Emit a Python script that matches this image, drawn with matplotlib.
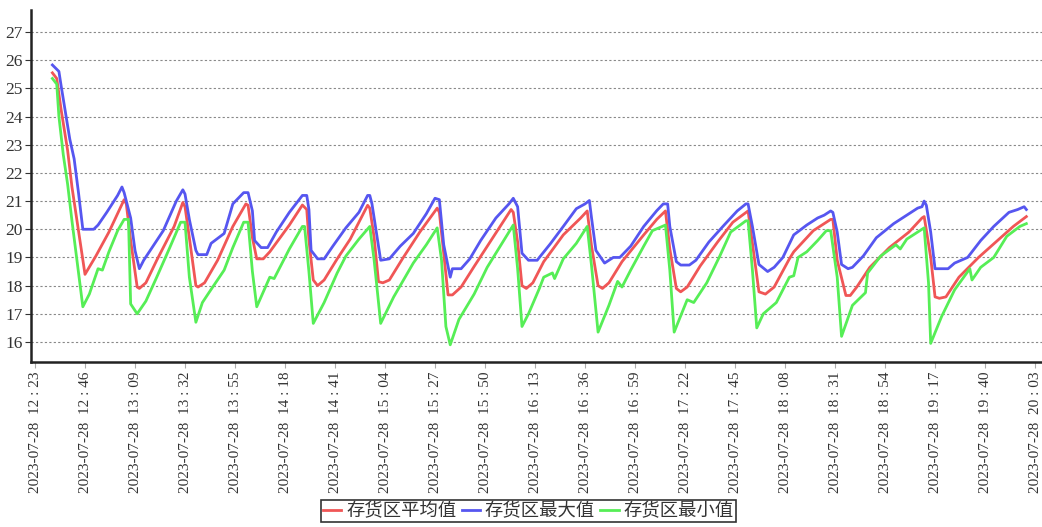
import matplotlib.pyplot as plt
import pandas as pd

plt.rcParams['font.family'] = ['Noto Sans CJK SC', 'DejaVu Sans']

START = '12:23'
TICK_LABELS = ['12:23', '12:46', '13:09', '13:32', '13:55', '14:18', '14:41',
               '15:04', '15:27', '15:50', '16:13', '16:36', '16:59', '17:22',
               '17:45', '18:08', '18:31', '18:54', '19:17', '19:40', '20:03']
DATE = '2023-07-28'

avg_t = ['12:31', '12:33', '12:35', '12:38', '12:40', '12:46', '12:51', '12:57', '13:04', '13:05',
         '13:07', '13:10', '13:11', '13:14', '13:19', '13:27', '13:31', '13:32', '13:34', '13:37',
         '13:38', '13:41', '13:47', '13:54', '14:00', '14:01', '14:03', '14:05', '14:08', '14:11',
         '14:20', '14:26', '14:28', '14:29', '14:31', '14:33', '14:36', '14:42', '14:48', '14:56',
         '14:57', '14:59', '15:01', '15:03', '15:06', '15:12', '15:20', '15:28', '15:29', '15:31',
         '15:33', '15:35', '15:39', '15:45', '15:54', '16:02', '16:03', '16:05', '16:07', '16:09',
         '16:12', '16:17', '16:26', '16:34', '16:37', '16:39', '16:42', '16:44', '16:47', '16:53',
         '17:03', '17:09', '17:13', '17:15', '17:18', '17:20', '17:23', '17:29', '17:37', '17:44',
         '17:51', '17:53', '17:56', '17:59', '18:03', '18:10', '18:12', '18:21', '18:29', '18:30',
         '18:32', '18:36', '18:38', '18:41', '18:47', '18:56', '19:05', '19:11', '19:12', '19:15',
         '19:17', '19:19', '19:22', '19:28', '19:37', '19:45', '19:53', '19:59']
avg_v = [25.55, 25.35, 24.25, 22.8, 21.5, 18.4, 19.05, 19.9, 21.05, 20.9,
         19.6, 17.95, 17.9, 18.1, 18.9, 20.1, 20.95, 20.8, 19.7, 18.0,
         17.95, 18.1, 18.9, 20.1, 20.9, 20.85, 19.7, 18.95, 18.95, 19.2,
         20.15, 20.86, 20.7, 19.62, 18.2, 18.0, 18.2, 18.95, 19.65, 20.85,
         20.75, 19.7, 18.14, 18.1, 18.2, 18.95, 19.9, 20.75, 20.6, 19.15,
         17.67, 17.67, 17.95, 18.68, 19.75, 20.7, 20.6, 19.55, 18.0, 17.9,
         18.1, 18.85, 19.8, 20.4, 20.65, 19.4, 18.0, 17.9, 18.1, 18.85,
         19.8, 20.35, 20.65, 19.3, 17.9, 17.78, 17.95, 18.7, 19.55, 20.25,
         20.65, 19.5, 17.78, 17.7, 17.95, 18.95, 19.2, 19.95, 20.35, 20.35,
         18.9, 17.65, 17.65, 17.95, 18.65, 19.35, 19.9, 20.4, 20.45, 19.0,
         17.6, 17.55, 17.6, 18.3, 19.0, 19.55, 20.1, 20.45]

max_t = ['12:31', '12:34', '12:35', '12:37', '12:39', '12:41', '12:43', '12:45', '12:50', '12:52',
         '12:56', '13:01', '13:03', '13:04', '13:07', '13:09', '13:11', '13:13', '13:16', '13:22',
         '13:28', '13:31', '13:32', '13:34', '13:37', '13:38', '13:42', '13:44', '13:50', '13:54',
         '13:59', '14:01', '14:03', '14:04', '14:07', '14:10', '14:14', '14:20', '14:26', '14:28',
         '14:29', '14:30', '14:33', '14:36', '14:40', '14:46', '14:52', '14:56', '14:57', '14:58',
         '15:02', '15:06', '15:11', '15:17', '15:23', '15:27', '15:29', '15:31', '15:34', '15:35',
         '15:39', '15:43', '15:48', '15:55', '16:01', '16:03', '16:05', '16:07', '16:10', '16:14',
         '16:15', '16:20', '16:26', '16:32', '16:36', '16:38', '16:39', '16:41', '16:45', '16:49',
         '16:52', '16:57', '17:03', '17:09', '17:12', '17:14', '17:15', '17:18', '17:20', '17:24',
         '17:27', '17:33', '17:40', '17:46', '17:50', '17:51', '17:53', '17:56', '18:00', '18:03',
         '18:07', '18:12', '18:18', '18:23', '18:26', '18:29', '18:30', '18:32', '18:34', '18:37',
         '18:39', '18:44', '18:50', '18:58', '19:04', '19:09', '19:11', '19:12', '19:13', '19:15',
         '19:17', '19:23', '19:26', '19:32', '19:38', '19:44', '19:51', '19:55', '19:58', '19:59']
max_v = [25.83, 25.6, 25.1, 24.15, 23.2, 22.5, 21.3, 20.0, 20.0, 20.15,
         20.6, 21.2, 21.5, 21.3, 20.4, 19.25, 18.6, 18.9, 19.25, 19.95,
         21.0, 21.4, 21.25, 20.35, 19.25, 19.1, 19.1, 19.5, 19.85, 20.9,
         21.3, 21.3, 20.65, 19.6, 19.35, 19.35, 19.9, 20.6, 21.2, 21.2,
         20.7, 19.25, 18.95, 18.95, 19.4, 20.05, 20.6, 21.2, 21.2, 20.9,
         18.9, 18.95, 19.4, 19.85, 20.55, 21.1, 21.05, 19.45, 18.3, 18.6,
         18.6, 18.95, 19.6, 20.4, 20.9, 21.1, 20.8, 19.15, 18.9, 18.9,
         19.0, 19.48, 20.1, 20.73, 20.9, 21.02, 20.4, 19.25, 18.8, 19.0,
         19.0, 19.4, 20.1, 20.66, 20.9, 20.9, 20.1, 18.85, 18.73, 18.73,
         18.9, 19.55, 20.15, 20.65, 20.9, 20.9, 20.1, 18.75, 18.5, 18.65,
         19.0, 19.8, 20.15, 20.4, 20.5, 20.65, 20.6, 19.9, 18.75, 18.6,
         18.65, 19.05, 19.7, 20.2, 20.5, 20.75, 20.8, 21.0, 20.85, 19.9,
         18.6, 18.6, 18.8, 19.0, 19.6, 20.1, 20.6, 20.7, 20.8, 20.7]

min_t = ['12:31', '12:33', '12:34', '12:36', '12:38', '12:40', '12:45', '12:48', '12:52', '12:54',
         '12:57', '13:01', '13:04', '13:06', '13:07', '13:10', '13:14', '13:19', '13:25', '13:30',
         '13:32', '13:34', '13:37', '13:40', '13:43', '13:50', '13:54', '13:59', '14:01', '14:03',
         '14:05', '14:11', '14:13', '14:20', '14:26', '14:27', '14:29', '14:31', '14:36', '14:42',
         '14:46', '14:52', '14:57', '14:59', '15:02', '15:08', '15:17', '15:23', '15:28', '15:30',
         '15:32', '15:34', '15:38', '15:45', '15:51', '15:57', '16:03', '16:05', '16:07', '16:10',
         '16:15', '16:17', '16:21', '16:22', '16:26', '16:32', '16:37', '16:39', '16:42', '16:47',
         '16:51', '16:53', '16:57', '17:03', '17:07', '17:13', '17:15', '17:17', '17:23', '17:26',
         '17:32', '17:38', '17:43', '17:50', '17:51', '17:53', '17:55', '17:58', '18:04', '18:06',
         '18:10', '18:12', '18:14', '18:18', '18:23', '18:27', '18:29', '18:32', '18:34', '18:39',
         '18:45', '18:46', '18:52', '18:59', '19:01', '19:04', '19:09', '19:12', '19:14', '19:15',
         '19:20', '19:26', '19:33', '19:34', '19:38', '19:44', '19:50', '19:56', '19:59']
min_v = [25.35, 25.15, 24.0, 22.65, 21.6, 20.3, 17.25, 17.7, 18.6, 18.55,
         19.2, 19.95, 20.35, 20.35, 17.35, 17.0, 17.45, 18.3, 19.35, 20.25,
         20.25, 18.3, 16.7, 17.4, 17.75, 18.55, 19.35, 20.25, 20.25, 18.5,
         17.25, 18.3, 18.25, 19.3, 20.1, 20.1, 18.5, 16.66, 17.4, 18.45,
         19.05, 19.65, 20.1, 18.9, 16.66, 17.6, 18.8, 19.45, 20.05, 18.9,
         16.55, 15.9, 16.8, 17.7, 18.65, 19.4, 20.15, 18.6, 16.55, 17.0,
         17.9, 18.3, 18.45, 18.25, 18.95, 19.5, 20.1, 18.7, 16.35, 17.3,
         18.15, 17.95, 18.55, 19.4, 19.95, 20.15, 18.55, 16.35, 17.5, 17.4,
         18.1, 19.05, 19.9, 20.3, 20.3, 18.55, 16.5, 17.0, 17.4, 17.7,
         18.3, 18.35, 19.0, 19.2, 19.6, 19.95, 19.95, 18.3, 16.2, 17.3,
         17.75, 18.45, 19.05, 19.45, 19.3, 19.65, 19.9, 20.05, 18.1, 15.95,
         16.9, 17.85, 18.6, 18.2, 18.65, 19.0, 19.75, 20.1, 20.2]


def minutes(times):
    t = pd.to_datetime(times, format='%H:%M')
    t0 = pd.to_datetime(START, format='%H:%M')
    return (t - t0).total_seconds() / 60


fig = plt.figure(figsize=(10.42, 5.27), dpi=100)
ax = fig.add_axes([31 / 1042, 1 - 362 / 527, 1 - 31 / 1042, 352 / 527])

ax.plot(minutes(avg_t), avg_v, color='#f05656', lw=2, label='存货区平均值')
ax.plot(minutes(max_t), max_v, color='#5656f0', lw=2, label='存货区最大值')
ax.plot(minutes(min_t), min_v, color='#56ee56', lw=2, label='存货区最小值')

ax.set_ylim(15.29, 27.78)
ax.set_xlim(-1.84, 463.2)
ax.set_yticks(range(16, 28))
ax.set_xticks(minutes(TICK_LABELS))
ax.set_xticklabels([DATE + '  ' + s.replace(':', ' : ') for s in TICK_LABELS], rotation=90,
                   family='Liberation Serif', fontsize=11, color='#333333')
for lab in ax.get_yticklabels():
    lab.set_family('Liberation Serif')
    lab.set_fontsize(12.5)
    lab.set_color('#333333')
ax.yaxis.grid(True, linestyle=(0, (2, 2)), color='#888888', lw=0.8)
ax.tick_params(axis='x', length=4, color='#aaaaaa', pad=3)
ax.tick_params(axis='y', length=4, color='#333333', pad=2)
for side in ['top', 'right']:
    ax.spines[side].set_visible(False)
for side in ['left', 'bottom']:
    ax.spines[side].set_linewidth(1.8)
    ax.spines[side].set_color('#222222')

leg = fig.legend(loc='center', bbox_to_anchor=(0.507, 0.03), ncol=3, fontsize=13.2,
                 frameon=True, fancybox=False, edgecolor='black', handlelength=1.0,
                 handletextpad=0.25, columnspacing=0.3, borderpad=0.12)
leg.get_frame().set_linewidth(1.2)
for t in leg.get_texts():
    t.set_color('#333333')

fig.savefig('out.png', dpi=100)
